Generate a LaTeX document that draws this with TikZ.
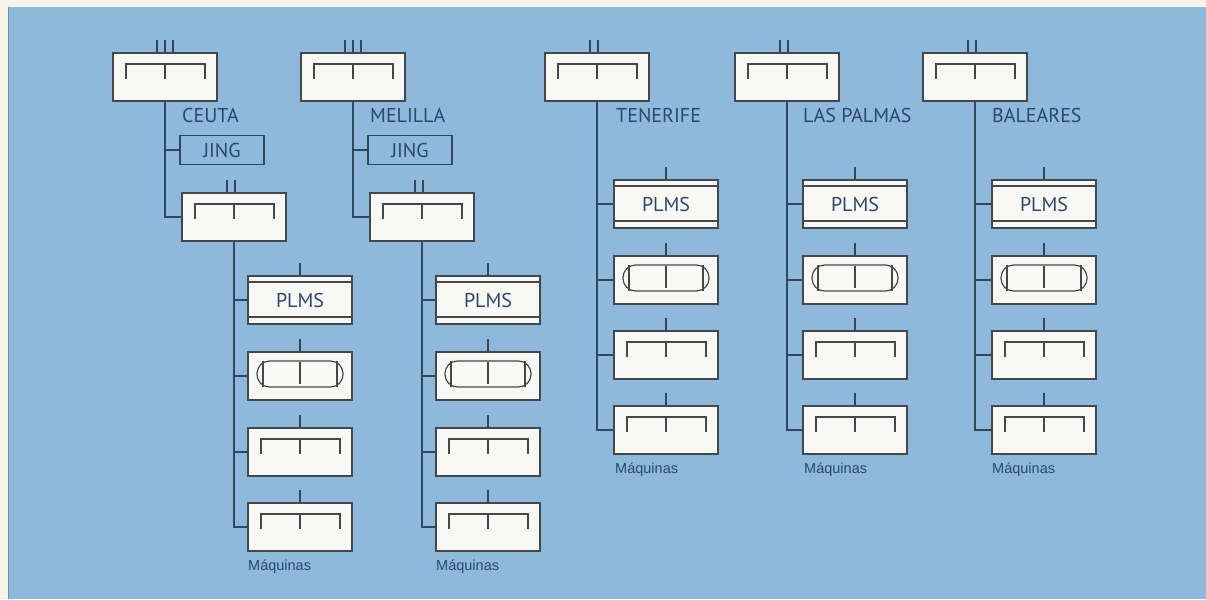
\documentclass[tikz,border=0pt]{standalone}
\usepackage{fontspec}
\setmainfont{PT Sans}
\newfontfamily\arialf{Liberation Sans}
\definecolor{bgblue}{HTML}{8EB9DD}
\definecolor{bgedge}{HTML}{6F93B3}
\definecolor{cream}{HTML}{F8F3E8}
\definecolor{lineclr}{HTML}{33465A}
\definecolor{boxline}{HTML}{45474B}
\definecolor{boxfill}{HTML}{F8F8F5}
\definecolor{txt}{HTML}{2D4866}
\begin{document}
\begin{tikzpicture}[x=1pt,y=-1pt,
  conn/.style={draw=lineclr, line width=1.5pt},
  tickline/.style={draw=lineclr, line width=1.5pt},
  innerl/.style={draw=boxline, line width=1.2pt},
  basebox/.style={draw=boxline, fill=boxfill, line width=1.5pt, minimum width=104pt, minimum height=48pt, inner sep=0pt},
  brbox/.style={basebox, path picture={
    \draw[innerl] ([shift={(13,11)}]path picture bounding box.north west) ++(0,15) -- ++(0,-15)
      -- ([shift={(-12,11)}]path picture bounding box.north east) -- ++(0,15);
    \draw[innerl] ([shift={(0,11)}]path picture bounding box.north) -- ++(0,15);}},
  childbox/.style={brbox},
  plmsbox/.style={basebox, text=txt, font=\fontsize{20}{24}\selectfont, path picture={
    \draw[innerl] ([shift={(0,6)}]path picture bounding box.north west) -- ([shift={(0,6)}]path picture bounding box.north east);
    \draw[innerl] ([shift={(0,-7)}]path picture bounding box.south west) -- ([shift={(0,-7)}]path picture bounding box.south east);}},
  ovalbox/.style={basebox, path picture={
    \draw[innerl, rounded corners=12.5pt] ([shift={(9,9)}]path picture bounding box.north west) rectangle ([shift={(-9,-13)}]path picture bounding box.south east);
    \draw[innerl] ([shift={(15,9)}]path picture bounding box.north west) -- ([shift={(15,-13)}]path picture bounding box.south west);
    \draw[innerl] ([shift={(-15,9)}]path picture bounding box.north east) -- ([shift={(-15,-13)}]path picture bounding box.south east);
    \draw[innerl] ([shift={(0,10)}]path picture bounding box.north) -- ([shift={(0,-16)}]path picture bounding box.south);}},
  jingbox/.style={draw=lineclr, fill=bgblue, line width=1.4pt, minimum width=84pt, minimum height=29pt, inner sep=0pt, text=txt, font=\fontsize{20}{24}\selectfont},
  lbl/.style={inner sep=0pt, anchor=west, text=txt, font=\fontsize{20}{24}\selectfont},
  maq/.style={inner sep=0pt, anchor=west, text=txt, font=\arialf\fontsize{14.5}{17}\selectfont}
]
\useasboundingbox (0,0) rectangle (1206,599);
\fill[cream] (0,0) rectangle (1206,599);
\fill[bgblue] (8,7) rectangle (1206,599);
\draw[bgedge, line width=0.8pt] (8,599) -- (8,7);

% ---------- Column 1: CEUTA ----------
\node[brbox] (t1) at (165,77) {};
\node[lbl] (l1) at (182,115) {CEUTA};
\node[jingbox] (j1) at (222,150) {JING};
\node[brbox] (s1) at (234,217) {};
\node[plmsbox] (c1a) at (300,300) {PLMS};
\node[ovalbox] (c1b) at (300,376) {};
\node[childbox] (c1c) at (300,452) {};
\node[childbox] (c1d) at (300,527) {};
\node[maq] (m1) at (248,567) {Máquinas};

% ---------- Column 2: MELILLA ----------
\node[brbox] (t2) at (353,77) {};
\node[lbl] (l2) at (370,115) {MELILLA};
\node[jingbox] (j2) at (410,150) {JING};
\node[brbox] (s2) at (422,217) {};
\node[plmsbox] (c2a) at (488,300) {PLMS};
\node[ovalbox] (c2b) at (488,376) {};
\node[childbox] (c2c) at (488,452) {};
\node[childbox] (c2d) at (488,527) {};
\node[maq] (m2) at (436,567) {Máquinas};

% ---------- Column 3: TENERIFE ----------
\node[brbox] (t3) at (597,77) {};
\node[lbl] (l3) at (616,115) {TENERIFE};
\node[plmsbox] (c3a) at (666,204) {PLMS};
\node[ovalbox] (c3b) at (666,280) {};
\node[childbox] (c3c) at (666,355) {};
\node[childbox] (c3d) at (666,430) {};
\node[maq] (m3) at (615,470) {Máquinas};

% ---------- Column 4: LAS PALMAS ----------
\node[brbox] (t4) at (787,77) {};
\node[lbl] (l4) at (803,115) {LAS PALMAS};
\node[plmsbox] (c4a) at (855,204) {PLMS};
\node[ovalbox] (c4b) at (855,280) {};
\node[childbox] (c4c) at (855,355) {};
\node[childbox] (c4d) at (855,430) {};
\node[maq] (m4) at (804,470) {Máquinas};

% ---------- Column 5: BALEARES ----------
\node[brbox] (t5) at (975,77) {};
\node[lbl] (l5) at (992,115) {BALEARES};
\node[plmsbox] (c5a) at (1044,204) {PLMS};
\node[ovalbox] (c5b) at (1044,280) {};
\node[childbox] (c5c) at (1044,355) {};
\node[childbox] (c5d) at (1044,430) {};
\node[maq] (m5) at (992,470) {Máquinas};

% ---------- connectors ----------
\foreach \k in {1,2} {
  \draw[conn] (t\k.south) |- (s\k.west);
  \draw[conn] (t\k.south |- j\k.west) -- (j\k.west);
  \draw[conn] (s\k.south) |- (c\k d.west);
  \foreach \c in {a,b,c} { \draw[conn] (s\k.south |- c\k\c.west) -- (c\k\c.west); }
  \foreach \d in {-8,0,8} { \draw[tickline] ([xshift=\d pt]t\k.north) -- ++(0,-12); }
  \foreach \d in {-7,1} { \draw[tickline] ([xshift=\d pt]s\k.north) -- ++(0,-12); }
}
\foreach \k in {3,4,5} {
  \draw[conn] (t\k.south) |- (c\k d.west);
  \foreach \c in {a,b,c} { \draw[conn] (t\k.south |- c\k\c.west) -- (c\k\c.west); }
  \foreach \d in {-7,1} { \draw[tickline] ([xshift=\d pt]t\k.north) -- ++(0,-12); }
}
\foreach \k in {1,2,3,4,5} {
  \foreach \c in {a,b,c,d} { \draw[tickline] (c\k\c.north) -- ++(0,-12); }
}
\end{tikzpicture}
\end{document}
